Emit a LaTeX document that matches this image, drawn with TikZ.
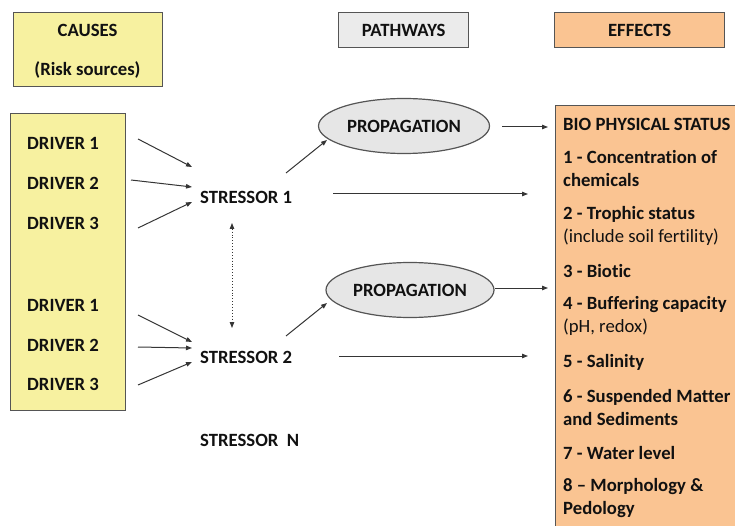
\documentclass[tikz,border=0pt]{standalone}
\usepackage{fontspec}
\setmainfont{Carlito}[Ligatures=NoCommon]
\usetikzlibrary{arrows.meta,shapes.geometric}
\definecolor{causefill}{HTML}{F7F1A0}
\definecolor{effectfill}{HTML}{FAC492}
\definecolor{pathfill}{HTML}{EBEBEB}
\definecolor{propfill}{HTML}{E6E6E6}
\definecolor{edge}{HTML}{555555}
\definecolor{txt}{HTML}{111111}
\begin{document}
\begin{tikzpicture}[x=1pt,y=-1pt,
  lbl/.style={font=\bfseries\fontsize{18.7}{22}\selectfont, text=txt, inner sep=0pt},
  reg/.style={font=\fontsize{18.7}{22}\selectfont, text=txt, inner sep=0pt},
  boxstyle/.style={draw=edge, line width=1.3pt, inner sep=0pt},
  arr/.style={draw=txt!85, line width=1pt, -{Triangle[length=6pt,width=4.5pt]}},
  dbl/.style={draw=txt!85, line width=0.9pt, dotted, {Triangle[length=6pt,width=4.5pt]}-{Triangle[length=6pt,width=4.5pt]}}]
\clip (0,0) rectangle (735,526);
% header boxes
\node[boxstyle, fill=causefill, minimum width=149pt, minimum height=74pt, anchor=north west] (causes) at (13,12) {};
\node[lbl] (causest) at (87.5,30) {CAUSES};
\node[lbl] (riskt) at (87.5,70) {(Risk sources)};
\node[boxstyle, fill=pathfill, minimum width=130pt, minimum height=35pt, anchor=north west] (path) at (338,12) {};
\node[lbl] at (path.center) {PATHWAYS};
\node[boxstyle, fill=effectfill, minimum width=170pt, minimum height=35pt, anchor=north west] (eff) at (554,12) {};
\node[lbl] at (eff.center) {EFFECTS};
% drivers box
\node[boxstyle, fill=causefill, minimum width=115pt, minimum height=297pt, anchor=north west] (drv) at (10,113) {};
\node[lbl, anchor=west] (d1) at (27,143) {DRIVER 1};
\node[lbl, anchor=west] (d2) at (27,183) {DRIVER 2};
\node[lbl, anchor=west] (d3) at (27,223) {DRIVER 3};
\node[lbl, anchor=west] (d4) at (27,305) {DRIVER 1};
\node[lbl, anchor=west] (d5) at (27,345) {DRIVER 2};
\node[lbl, anchor=west] (d6) at (27,384) {DRIVER 3};
% stressors
\node[lbl, anchor=west] (s1) at (200,197) {STRESSOR 1};
\node[lbl, anchor=west] (s2) at (200,357) {STRESSOR 2};
\node[lbl, anchor=west] (sn) at (200,440) {STRESSOR\ \ N};
% propagation ellipses
\node[ellipse, draw=edge, line width=1.2pt, fill=propfill, minimum width=171pt, minimum height=55pt, inner sep=0pt] (p1) at (404,126) {};
\node[lbl] at (p1.center) {PROPAGATION};
\node[ellipse, draw=edge, line width=1.2pt, fill=propfill, minimum width=168pt, minimum height=55pt, inner sep=0pt] (p2) at (410,290) {};
\node[lbl] at (p2.center) {PROPAGATION};
% effects box
\node[boxstyle, fill=effectfill, minimum width=200pt, minimum height=440pt, anchor=north west] (bio) at (555,105) {};
\node[lbl, anchor=west] (e0) at (563,124) {BIO PHYSICAL STATUS};
\node[lbl, anchor=west] (e1) at (563,157) {1 - Concentration of};
\node[lbl, anchor=west] (e1b) at (563,180) {chemicals};
\node[lbl, anchor=west] (e2) at (563,214) {2 - Trophic status};
\node[reg, anchor=west] (e2b) at (563,237) {(include soil fertility)};
\node[lbl, anchor=west] (e3) at (563,271) {3 - Biotic};
\node[lbl, anchor=west] (e4) at (563,305) {4 - Buffering capacity};
\node[reg, anchor=west] (e4b) at (563,327) {(pH, redox)};
\node[lbl, anchor=west] (e5) at (563,362) {5 - Salinity};
\node[lbl, anchor=west] (e6) at (563,397) {6 - Suspended Matter};
\node[lbl, anchor=west] (e6b) at (563,419) {and Sediments};
\node[lbl, anchor=west] (e7) at (563,453) {7 - Water level};
\node[lbl, anchor=west] (e8) at (563,487) {8 – Morphology \&};
\node[lbl, anchor=west] (e8b) at (563,510) {Pedology};
% connector end points
\coordinate (a1) at (138,139); \coordinate (b1) at (192,167);
\coordinate (a2) at (131,180); \coordinate (b2) at (192,187);
\coordinate (a3) at (138,228); \coordinate (b3) at (192,202);
\coordinate (a4) at (138,315); \coordinate (b4) at (192,342);
\coordinate (a5) at (138,347); \coordinate (b5) at (192,348);
\coordinate (a6) at (138,385); \coordinate (b6) at (192,362);
\coordinate (su1) at (286,173); \coordinate (pe1) at (327,140);
\coordinate (su2) at (286,336); \coordinate (pe2) at (327,303);
\coordinate (h1a) at (333,194); \coordinate (h1b) at (528,194);
\coordinate (h2a) at (339,356); \coordinate (h2b) at (528,356);
\coordinate (o1a) at (502,127); \coordinate (o1b) at (548,127);
\coordinate (o2a) at (495,288); \coordinate (o2b) at (548,288);
\coordinate (va) at (232,223); \coordinate (vb) at (232,328);
% connectors
\draw[arr] (a1) -- (b1);
\draw[arr] (a2) -- (b2);
\draw[arr] (a3) -- (b3);
\draw[arr] (a4) -- (b4);
\draw[arr] (a5) -- (b5);
\draw[arr] (a6) -- (b6);
\draw[arr] (su1) -- (pe1);
\draw[arr] (su2) -- (pe2);
\draw[arr] (h1a) -- (h1b);
\draw[arr] (h2a) -- (h2b);
\draw[arr] (o1a) -- (o1b);
\draw[arr] (o2a) -- (o2b);
\draw[dbl] (va) -- (vb);
\end{tikzpicture}
\end{document}
